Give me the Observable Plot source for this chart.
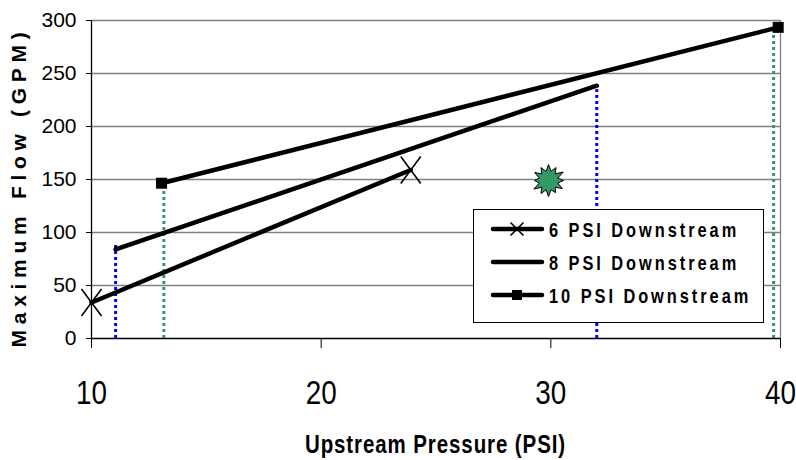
<!DOCTYPE html>
<html>
<head>
<meta charset="utf-8">
<script src="https://cdn.jsdelivr.net/npm/d3@7"></script>
<script src="https://cdn.jsdelivr.net/npm/@observablehq/plot@0.6"></script>
<style>
  html, body { margin: 0; padding: 0; background: #fff; }
  #chart { width: 796px; height: 460px; }
</style>
</head>
<body>
<div id="chart"></div>
<script>
// ---- data ----
const seriesNames = ["6 PSI Downstream", "8 PSI Downstream", "10 PSI Downstream"];
const s6x = [10, 23.9];
const s6y = [34, 159];
const s8x = [11.05, 32];
const s8y = [84, 238.5];
const s10x = [13.05, 39.9];
const s10y = [146.5, 293.5];
const blueDropX = [11.05, 32];
const blueDropTop = [88, 238.5];
const greenDropX = [13.15, 39.7];
const greenDropTop = [146, 293];
const starX = [29.9];
const starY = [149];
const xTicks = [10, 20, 30, 40];
const yTicks = [0, 50, 100, 150, 200, 250, 300];
const xTitle = "Upstream Pressure (PSI)";
const yTitle = "Maximum Flow (GPM)";

const toRows = (xs, ys) => xs.map((x, i) => ({x, y: ys[i]}));
const s6 = toRows(s6x, s6y), s8 = toRows(s8x, s8y), s10 = toRows(s10x, s10y);
const blueDrops = toRows(blueDropX, blueDropTop);
const greenDrops = toRows(greenDropX, greenDropTop);
const star = toRows(starX, starY);

const SANS = "'Liberation Sans', Arial, sans-serif";
const NARROW = 0.82;

const timesSym = {draw(ctx) { ctx.moveTo(-10, -13.5); ctx.lineTo(10, 13.5); ctx.moveTo(-10, 13.5); ctx.lineTo(10, -13.5); }};
const squareSym = {draw(ctx) { ctx.rect(-5.5, -5.5, 11, 11); }};
const starSym = {draw(ctx) {
  const n = 12, ro = [16, 15, 17, 15, 16, 14, 16, 15, 17, 14, 16, 15], ri = 9.5;
  for (let i = 0; i < 2 * n; i++) {
    const a = -Math.PI / 2 + i * Math.PI / n;
    const r = i % 2 === 0 ? ro[i / 2] : ri;
    const px = r * Math.cos(a), py = r * Math.sin(a);
    if (i === 0) ctx.moveTo(px, py); else ctx.lineTo(px, py);
  }
  ctx.closePath();
}};

const chart = Plot.plot({
  width: 796, height: 460,
  marginLeft: 91, marginRight: 16, marginTop: 20, marginBottom: 122,
  style: {fontFamily: SANS, background: "#fff", overflow: "visible"},
  x: {domain: [10, 40]},
  y: {domain: [0, 300]},
  marks: [
    Plot.ruleY(yTicks.filter(d => d > 0), {stroke: "#808080", strokeWidth: 1.3, strokeOpacity: 1}),
    Plot.ruleX([40], {y1: 0, y2: 300, stroke: "#808080", strokeWidth: 1.3}),
    Plot.ruleX(blueDrops, {x: "x", y1: 0, y2: "y", stroke: "#0000ff", strokeWidth: 3, strokeDasharray: "3,3"}),
    Plot.ruleX(greenDrops, {x: "x", y1: 0, y2: "y", stroke: "#339966", strokeWidth: 3, strokeDasharray: "3,3"}),
    Plot.line(s6, {x: "x", y: "y", stroke: "#000", strokeWidth: 4.5, strokeLinecap: "round"}),
    Plot.line(s8, {x: "x", y: "y", stroke: "#000", strokeWidth: 4.5, strokeLinecap: "round"}),
    Plot.line(s10, {x: "x", y: "y", stroke: "#000", strokeWidth: 4.5, strokeLinecap: "round"}),
    Plot.dot(s6, {x: "x", y: "y", symbol: timesSym, r: 10, stroke: "#000", strokeWidth: 1.6, fill: "none"}),
    Plot.dot(s10, {x: "x", y: "y", symbol: squareSym, r: 6, fill: "#000", stroke: "none"}),
    Plot.dot(star, {x: "x", y: "y", symbol: starSym, r: 16, fill: "#339966", stroke: "#000", strokeWidth: 1}),
    Plot.ruleY([0], {stroke: "#000", strokeWidth: 1.3}),
    Plot.ruleX([10], {y1: 0, y2: 300, stroke: "#000", strokeWidth: 1.3}),
    Plot.axisY({ticks: yTicks, tickSize: 5, tickPadding: 10, fontSize: 21, label: null, fontFamily: SANS}),
    Plot.axisX({ticks: xTicks, tickSize: 10, tickPadding: 31, fontSize: 34, label: null, fontFamily: SANS})
  ]
});

const svg = d3.select(chart);

// make x tick labels narrow (Arial Narrow look)
svg.selectAll('g[aria-label="x-axis tick label"] text').each(function () {
  const el = d3.select(this);
  const t = el.attr("transform");
  if (t) {
    el.attr("transform", t + ` scale(${NARROW},1)`);
  } else {
    const x = +el.attr("x") || 0, y = +el.attr("y") || 0;
    el.attr("x", null).attr("y", null).attr("transform", `translate(${x},${y}) scale(${NARROW},1)`);
  }
});

// axis titles
svg.append("text")
  .attr("transform", `translate(435.5,453) scale(${NARROW},1)`)
  .attr("text-anchor", "middle")
  .style("font-family", SANS)
  .style("font-weight", "bold").style("font-size", "25px").style("letter-spacing", "1.1px")
  .attr("fill", "#000")
  .text(xTitle);
svg.append("text")
  .attr("transform", "translate(18,187) rotate(-90)")
  .attr("text-anchor", "middle").attr("dominant-baseline", "central")
  .style("font-family", SANS)
  .style("font-weight", "bold").style("font-size", "21px").style("letter-spacing", "5.7px")
  .attr("fill", "#000")
  .text(yTitle);

// legend inside the plot
const lg = svg.append("g");
lg.append("rect").attr("x", 473.5).attr("y", 209.5).attr("width", 290).attr("height", 113)
  .attr("fill", "#fff").attr("stroke", "#000").attr("stroke-width", 1);
const rowsY = [229, 262, 295];
seriesNames.forEach((name, i) => {
  const y = rowsY[i];
  lg.append("line").attr("x1", 493).attr("x2", 542).attr("y1", y).attr("y2", y)
    .attr("stroke", "#000").attr("stroke-width", 4.5).attr("stroke-linecap", "round");
  if (i === 0) {
    lg.append("path").attr("d", `M${517-6.5},${y-6.5}L${517+6.5},${y+6.5}M${517-6.5},${y+6.5}L${517+6.5},${y-6.5}`)
      .attr("stroke", "#000").attr("stroke-width", 1.6);
  }
  if (i === 2) {
    lg.append("rect").attr("x", 517 - 5).attr("y", y - 5).attr("width", 10).attr("height", 10).attr("fill", "#000");
  }
  lg.append("text")
    .attr("transform", `translate(549,${y + 7.5}) scale(${NARROW},1)`)
    .attr("text-anchor", "start")
    .style("font-family", SANS)
    .style("font-weight", "bold").style("font-size", "20px").style("letter-spacing", "3.6px")
    .attr("fill", "#000").text(name);
});

document.getElementById("chart").appendChild(chart);
</script>
</body>
</html>
